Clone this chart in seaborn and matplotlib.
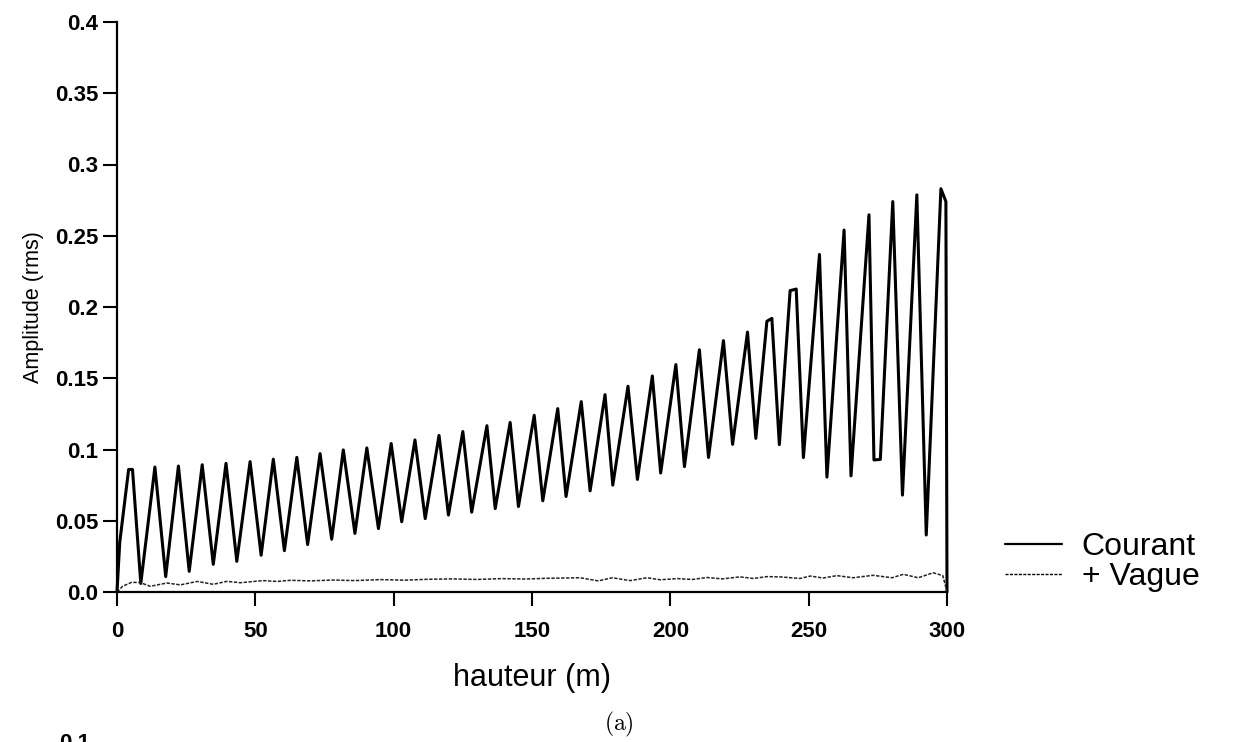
import numpy as np
import pandas as pd
import matplotlib
matplotlib.use("Agg")
import matplotlib.pyplot as plt
import seaborn as sns

# ---------------- data ----------------
courant_x = [0.0, 1.0, 4.2, 5.6, 8.6, 13.7, 17.6, 22.2, 26.1, 30.8, 34.8, 39.4, 43.3,
             48.1, 52.1, 56.5, 60.5, 65.0, 68.9, 73.4, 77.6, 81.8, 86.0, 90.3, 94.5,
             99.1, 102.9, 107.7, 111.4, 116.4, 119.8, 125.0, 128.2, 133.7, 136.7,
             142.1, 145.1, 150.8, 153.9, 159.3, 162.3, 167.8, 171.0, 176.4, 179.2,
             184.7, 188.1, 193.5, 196.5, 202.0, 205.1, 210.5, 213.8, 219.2, 222.5,
             227.9, 230.9, 234.9, 236.7, 239.4, 243.3, 245.5, 248.1, 253.9, 256.6,
             262.8, 265.3, 271.8, 273.6, 275.9, 280.4, 283.9, 289.1, 292.5, 297.8,
             299.6, 300.0]
courant_y = [0.0, 0.035, 0.086, 0.086, 0.006, 0.0877, 0.0108, 0.0884, 0.0145, 0.0893,
             0.0194, 0.0903, 0.0215, 0.0915, 0.0258, 0.0932, 0.029, 0.0945, 0.0333,
             0.0971, 0.037, 0.0997, 0.0411, 0.1011, 0.0445, 0.1042, 0.0493, 0.1067,
             0.0515, 0.1099, 0.054, 0.1126, 0.056, 0.1167, 0.0585, 0.119, 0.060,
             0.124, 0.064, 0.1287, 0.067, 0.1336, 0.071, 0.1385, 0.075, 0.1444,
             0.079, 0.1516, 0.0835, 0.1596, 0.088, 0.170, 0.0944, 0.1764, 0.1036,
             0.1824, 0.1078, 0.190, 0.192, 0.1034, 0.2115, 0.2126, 0.0943, 0.2369,
             0.0806, 0.254, 0.0815, 0.2647, 0.0927, 0.0930, 0.274, 0.068, 0.2787,
             0.040, 0.283, 0.274, 0.0]

vague_x = [0.0, 2.0, 5.3, 8.4, 12.0, 18.0, 22.9, 29.0, 34.8, 39.8, 44.5, 52.8, 57.9,
           62.6, 70.0, 78.0, 86.0, 95.0, 104.0, 112.0, 121.0, 130.0, 139.0, 148.0,
           155.0, 167.4, 174.0, 179.0, 185.5, 191.6, 196.3, 202.5, 208.0, 213.2,
           218.7, 225.2, 230.0, 235.0, 239.7, 246.9, 250.6, 255.2, 260.2, 266.0,
           273.3, 280.1, 284.2, 289.6, 295.0, 298.5, 300.0]
vague_y = [0.0, 0.004, 0.0068, 0.0066, 0.0040, 0.0063, 0.0050, 0.0074, 0.0054, 0.0075,
           0.0065, 0.0080, 0.0074, 0.0082, 0.0078, 0.0084, 0.0080, 0.0087, 0.0083,
           0.0089, 0.0092, 0.0088, 0.0094, 0.0091, 0.0096, 0.0100, 0.0078, 0.0100,
           0.0080, 0.0100, 0.0086, 0.0094, 0.0088, 0.0102, 0.0092, 0.0106, 0.0095,
           0.0108, 0.0106, 0.0095, 0.0112, 0.0098, 0.0115, 0.0100, 0.0117, 0.0100,
           0.0124, 0.0100, 0.0135, 0.0115, 0.0]

x_ticks = [0, 50, 100, 150, 200, 250, 300]
x_tick_labels = ["0", "50", "100", "150", "200", "250", "300"]
y_ticks = [0.0, 0.05, 0.1, 0.15, 0.2, 0.25, 0.3, 0.35, 0.4]
y_tick_labels = ["0.0", "0.05", "0.1", "0.15", "0.2", "0.25", "0.3", "0.35", "0.4"]

series_names = ["Courant", "+ Vague"]

# ---------------- figure ----------------
sns.set_theme(style="ticks")
plt.rcParams["font.family"] = ["Liberation Sans", "DejaVu Sans"]
plt.rcParams["text.color"] = "black"
plt.rcParams["axes.labelcolor"] = "black"

W, H = 1240, 742
fig = plt.figure(figsize=(W / 100, H / 100), dpi=100)
left, right, top, bottom = 117, 947, 22, 592
ax = fig.add_axes([left / W, 1 - bottom / H, (right - left) / W, (bottom - top) / H])

df_c = pd.DataFrame({"hauteur": courant_x, "amp": courant_y})
df_v = pd.DataFrame({"hauteur": vague_x, "amp": vague_y})

sns.lineplot(data=df_c, x="hauteur", y="amp", ax=ax, color="black", linewidth=2.2,
             label=series_names[0], estimator=None, sort=False, clip_on=False)
sns.lineplot(data=df_v, x="hauteur", y="amp", ax=ax, color="#222222", linewidth=1.1,
             linestyle=(0, (2.2, 1.0)), label=series_names[1], estimator=None,
             sort=False, clip_on=False)

ax.set_xlim(0, 300)
ax.set_ylim(0, 0.4)
ax.set_xticks(x_ticks)
ax.set_xticklabels(x_tick_labels)
ax.set_yticks(y_ticks)
ax.set_yticklabels(y_tick_labels)

sns.despine(ax=ax)
for s in ("left", "bottom"):
    ax.spines[s].set_linewidth(1.6)
    ax.spines[s].set_color("black")

ax.tick_params(axis="both", direction="out", length=10, width=1.5, colors="black",
               labelsize=16)
ax.tick_params(axis="x", pad=11)
ax.tick_params(axis="y", pad=3.5)
for lbl in ax.get_xticklabels() + ax.get_yticklabels():
    lbl.set_fontweight("bold")

ax.set_xlabel("hauteur (m)", fontsize=22, color="black")
ax.xaxis.set_label_coords(0.5, -0.125)
ax.set_ylabel("Amplitude (rms)", fontsize=15.5, color="black", va="center")
ax.yaxis.set_label_coords(-0.101, 0.5)

leg = ax.legend(loc="center left", bbox_to_anchor=(1005 / W, 1 - 562 / H),
                bbox_transform=fig.transFigure, frameon=False, fontsize=23,
                handlelength=1.8, handletextpad=0.6, borderpad=0,
                labelspacing=0.0, borderaxespad=0)
for line in leg.get_lines():
    line.set_color("black")
for t in leg.get_texts():
    t.set_color("black")
leg.get_lines()[0].set_linewidth(1.6)
leg.get_lines()[1].set_linewidth(1.0)

fig.text(619 / W, 1 - 724 / H, r"$\mathrm{(a)}$", ha="center", va="center",
         fontsize=17, math_fontfamily="cm", color="black")
fig.text(90 / W, 1 - 733 / H, "0.1", ha="right", va="top", fontsize=16,
         fontweight="bold", color="black")

fig.savefig("out.png", dpi=100, facecolor="white")
